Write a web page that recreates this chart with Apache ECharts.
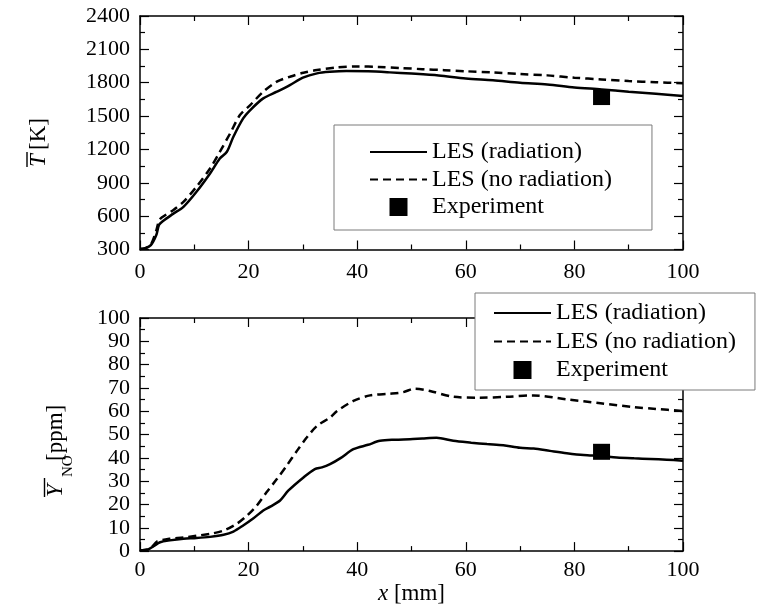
<!DOCTYPE html>
<html>
<head>
<meta charset="utf-8">
<script src="https://cdn.jsdelivr.net/npm/echarts@6/dist/echarts.min.js"></script>
<style>
  html, body { margin: 0; padding: 0; background: #fff; }
  #main { width: 769px; height: 606px; }
</style>
</head>
<body>
<div id="main"></div>
<script>
// upper panel: mean temperature [K]
const tRadX = [0, 1, 2, 3, 3.5, 4.3, 6, 8, 10.4, 12.9, 14.7, 16, 17.2, 19, 20.3, 22.7, 25.2, 27.6, 30, 32.6, 35, 38, 42, 46, 50, 55, 60, 65, 70, 75, 80, 85, 90, 95, 100];
const tRad = [305, 312, 339, 430, 520, 558, 618, 684, 819, 984, 1119, 1179, 1314, 1479, 1554, 1659, 1719, 1779, 1845, 1884, 1898, 1905, 1902, 1893, 1882, 1865, 1838, 1822, 1800, 1785, 1758, 1740, 1718, 1700, 1680];
const tNoRadX = [0, 1, 2, 3, 3.5, 4, 6.1, 8, 10.4, 12.9, 14.7, 16.6, 18.4, 20.3, 22.7, 25.2, 27.6, 30.1, 32.6, 36, 40, 44, 48, 52, 56, 60, 65, 70, 75, 80, 85, 90, 95, 100];
const tNoRad = [305, 313, 345, 470, 560, 588, 654, 729, 864, 1029, 1179, 1344, 1509, 1599, 1719, 1809, 1854, 1890, 1914, 1936, 1946, 1942, 1932, 1922, 1913, 1903, 1893, 1878, 1866, 1845, 1830, 1815, 1805, 1795];
const tExp = [[85, 1671]];

// lower panel: mean NO mass fraction [ppm]
const noRadX = [0, 1.5, 2.5, 3.7, 5.5, 8, 10.4, 12.9, 15.4, 17.2, 19, 20.9, 22.7, 24, 25.8, 27.3, 30.1, 32.2, 33.5, 35, 37, 39.3, 42, 44.2, 47, 49.7, 52, 54.6, 57.7, 61, 63.9, 66.9, 70, 72.5, 75.5, 78.6, 81.7, 84.8, 87.8, 91, 94, 97, 100];
const noRad = [0.3, 0.7, 2.1, 3.8, 4.6, 5.3, 5.6, 6.1, 7.0, 8.4, 11.0, 14.1, 17.4, 19.1, 21.7, 25.9, 31.6, 35.2, 35.9, 37.3, 40, 43.7, 45.6, 47.3, 47.8, 48.0, 48.3, 48.6, 47.3, 46.5, 45.9, 45.4, 44.3, 44.0, 43.0, 42.0, 41.2, 40.8, 40.2, 39.8, 39.5, 39.2, 38.8];
const noNoRadX = [0, 1.5, 2.5, 3.1, 5.5, 8, 10.4, 12.9, 15.4, 17.8, 19.7, 21.5, 23.3, 25.2, 27, 28.9, 30.7, 32.6, 35, 36.3, 39.3, 42.4, 46.1, 48.5, 50.6, 53.4, 57.7, 62.6, 67.5, 72.5, 78.6, 84.8, 90.9, 95, 100];
const noNoRad = [0.3, 0.7, 2.5, 4.1, 5.3, 5.8, 6.6, 7.4, 8.8, 11.7, 15.2, 19.5, 25.2, 30.9, 36.6, 43.0, 48.7, 53.7, 57.3, 60.1, 64.4, 66.8, 67.5, 68.2, 69.7, 68.7, 66.2, 65.8, 66.2, 66.8, 65.1, 63.4, 61.8, 61.0, 60.1];
const noExp = [[85, 42.6]];

const legendNames = ['LES (radiation)', 'LES (no radiation)', 'Experiment'];

const FONT = "'Liberation Serif', 'Times New Roman', serif";

function pairs (xs, ys) {
  return xs.map((x, i) => [x, ys[i]]);
}

function xAxisOf (grid, pos, labelMargin, extra) {
  return Object.assign({
    gridIndex: grid,
    type: 'value',
    position: pos,
    min: 0,
    max: 100,
    interval: 20,
    axisLine: { onZero: false, lineStyle: { color: '#000', width: 1.5 } },
    axisTick: { inside: true, length: 9, lineStyle: { color: '#000', width: 1.2 } },
    minorTick: { show: true, splitNumber: 2, length: 5, lineStyle: { color: '#000', width: 1.2 } },
    splitLine: { show: false },
    axisLabel: pos === 'bottom'
      ? { show: true, margin: labelMargin, color: '#000', fontSize: 22, fontFamily: FONT, formatter: v => String(v) }
      : { show: false }
  }, extra || {});
}

function yAxisOf (grid, pos, min, max, step) {
  return {
    gridIndex: grid,
    type: 'value',
    position: pos,
    min: min,
    max: max,
    interval: step,
    axisLine: { show: true, onZero: false, lineStyle: { color: '#000', width: 1.5 } },
    axisTick: { show: true, inside: true, length: 9, lineStyle: { color: '#000', width: 1.2 } },
    minorTick: { show: true, splitNumber: 2, length: 5, lineStyle: { color: '#000', width: 1.2 } },
    splitLine: { show: false },
    axisLabel: pos === 'left'
      ? { show: true, margin: 10, color: '#000', fontSize: 22, fontFamily: FONT, formatter: v => String(v) }
      : { show: false }
  };
}

function legendOf (left, top, padding, gap) {
  return {
    orient: 'vertical',
    left: left,
    top: top,
    padding: padding,
    itemGap: gap,
    itemWidth: 57,
    itemHeight: 18,
    selectedMode: false,
    backgroundColor: '#fff',
    borderColor: '#7a7a7a',
    borderWidth: 1,
    z: 10,
    textStyle: { color: '#000', fontSize: 24, lineHeight: 24, fontFamily: FONT },
    data: [
      { name: legendNames[0] },
      { name: legendNames[1] },
      { name: legendNames[2], icon: 'path://M0,0H10V10H0Z', itemStyle: { color: '#000', opacity: 1 } }
    ]
  };
}

function lineSeries (name, xi, yi, data, dashed) {
  return {
    name: name,
    type: 'line',
    xAxisIndex: xi,
    yAxisIndex: yi,
    data: data,
    // empty path so the legend draws only the line
    symbol: 'path://M0,0L1,1',
    showSymbol: false,
    smooth: 0.3,
    itemStyle: { color: '#000', borderWidth: 0 },
    lineStyle: { color: '#000', width: 2.5, type: dashed ? [8, 5] : 'solid' },
    z: 3
  };
}

function expSeries (xi, yi, data) {
  return {
    name: legendNames[2],
    type: 'scatter',
    xAxisIndex: xi,
    yAxisIndex: yi,
    data: data,
    symbol: 'rect',
    symbolSize: [17, 16],
    itemStyle: { color: '#000', opacity: 1 },
    z: 4
  };
}

function rotText (x, y, text, size, italic) {
  return {
    type: 'text',
    x: x,
    y: y,
    rotation: Math.PI / 2,
    style: {
      text: text,
      fontFamily: FONT,
      fontSize: size,
      fontStyle: italic ? 'italic' : 'normal',
      fill: '#000',
      align: 'left',
      verticalAlign: 'middle',
      textAlign: 'left',
      textVerticalAlign: 'middle'
    }
  };
}

function bar (x, y1, y2) {
  return {
    type: 'line',
    shape: { x1: x, y1: y1, x2: x, y2: y2 },
    style: { stroke: '#000', lineWidth: 1.4 }
  };
}

const chart = echarts.init(document.getElementById('main'), null, { renderer: 'canvas' });

chart.setOption({
  animation: false,
  backgroundColor: '#fff',
  textStyle: { fontFamily: FONT },
  grid: [
    { left: 140, top: 16, width: 543, height: 233.5 },
    { left: 140, top: 318, width: 543, height: 234 }
  ],
  xAxis: [
    xAxisOf(0, 'bottom', 12),
    xAxisOf(0, 'top'),
    xAxisOf(1, 'bottom', 8, {
      name: '{i|x} [mm]',
      nameLocation: 'middle',
      nameGap: 28,
      nameTextStyle: {
        color: '#000',
        fontSize: 23,
        fontFamily: FONT,
        rich: { i: { fontStyle: 'italic', fontSize: 23, fontFamily: FONT, color: '#000' } }
      }
    }),
    xAxisOf(1, 'top')
  ],
  yAxis: [
    yAxisOf(0, 'left', 300, 2400, 300),
    yAxisOf(0, 'right', 300, 2400, 300),
    yAxisOf(1, 'left', 0, 100, 10),
    yAxisOf(1, 'right', 0, 100, 10)
  ],
  legend: [
    legendOf(334, 125, [15, 40, 11, 35], 3.5),
    legendOf(475, 293, [8, 19, 8, 18], 4.5)
  ],
  graphic: [
    rotText(39, 167, 'T', 23, true),
    rotText(39, 150, '[K]', 23, false),
    bar(27, 152, 167),
    rotText(56, 497, 'Y', 23, true),
    rotText(68, 477, 'NO', 15, false),
    rotText(56, 461, '[ppm]', 23, false),
    bar(44.5, 478, 497)
  ],
  series: [
    lineSeries(legendNames[0], 0, 0, pairs(tRadX, tRad), false),
    lineSeries(legendNames[1], 0, 0, pairs(tNoRadX, tNoRad), true),
    expSeries(0, 0, tExp),
    lineSeries(legendNames[0], 2, 2, pairs(noRadX, noRad), false),
    lineSeries(legendNames[1], 2, 2, pairs(noNoRadX, noNoRad), true),
    expSeries(2, 2, noExp)
  ]
});
</script>
</body>
</html>
